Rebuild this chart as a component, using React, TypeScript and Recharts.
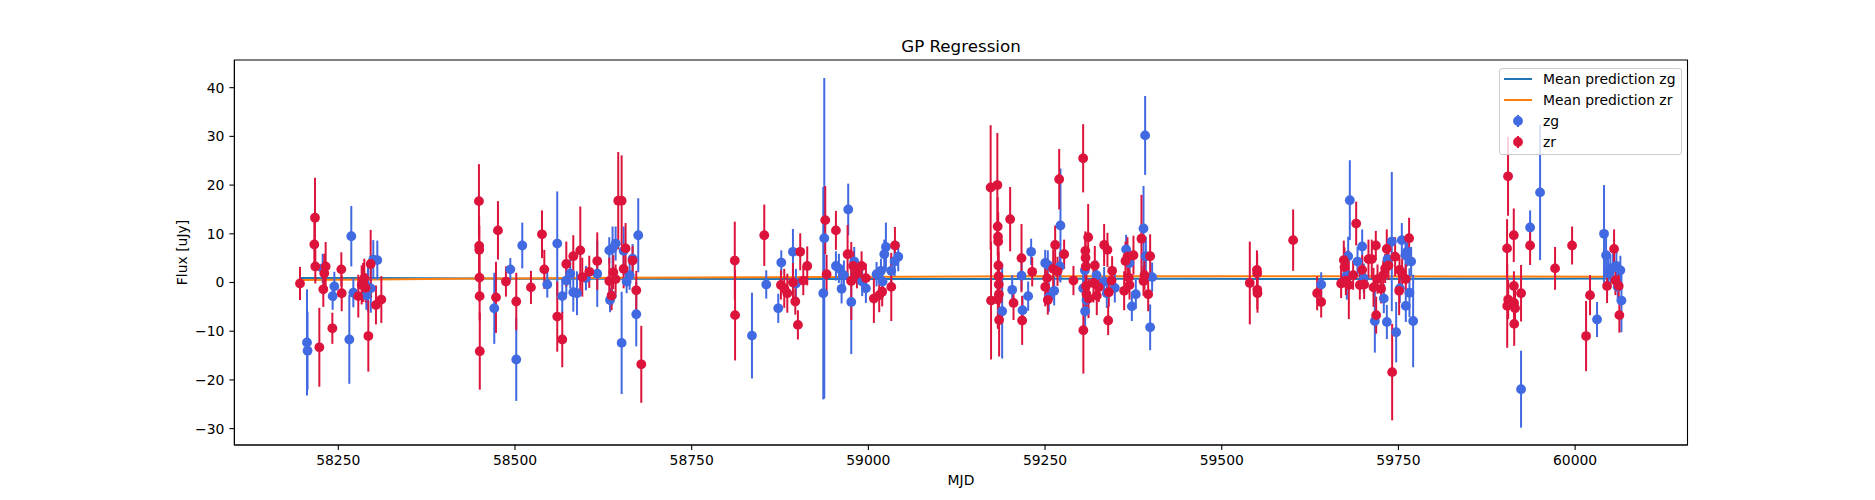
import React from 'react';
import { ComposedChart, Scatter, Line, XAxis, YAxis, ErrorBar, ReferenceArea, Legend } from 'recharts';

// zg band (blue)
const zgMjd = [
  58205.7, 58206.5, 58227.9, 58242.0, 58244.4, 58265.6, 58268.4, 58271.3, 58285.0, 58289.7, 58292.0, 58296.0, 58299.5, 58305.2,
  58470.7, 58493.4, 58501.8, 58510.3, 58545.7, 58559.8, 58566.9, 58572.6, 58578.2, 58582.5, 58587.7, 58600.4, 58616.4,
  58633.4, 58634.5, 58637.0, 58638.1, 58642.4, 58650.9, 58653.7, 58658.0, 58662.2, 58666.4, 58671.6, 58674.4,
  58835.3, 58855.5, 58872.5, 58876.8, 58893.3, 58897.5, 58936.2, 58937.6, 58954.1, 58958.3, 58962.1, 58965.4, 58971.5,
  58975.8, 58980.0, 58991.3, 58996.5, 59011.6, 59017.8, 59020.1, 59022.5, 59024.8, 59032.4, 59037.1, 59042.3,
  59189.3, 59203.5, 59216.7, 59218.1, 59226.1, 59230.3, 59250.2, 59253.9, 59255.3, 59262.9, 59270.9, 59271.8,
  59303.9, 59306.3, 59306.7, 59308.6, 59322.8, 59333.6, 59337.4, 59348.7, 59364.7, 59369.5, 59372.8, 59378.4,
  59389.3, 59391.6, 59392.6, 59398.7, 59401.5,
  59640.7, 59677.0, 59678.9, 59681.2, 59692.1, 59698.7, 59701.0, 59716.6, 59729.3, 59733.6, 59734.5, 59740.6,
  59746.8, 59751.9, 59754.8, 59760.0, 59760.4, 59762.3, 59765.6, 59768.0, 59770.8,
  59923.5, 59936.3, 59950.4, 60031.0, 60040.9, 60043.8, 60046.6, 60049.9, 60053.7, 60058.4, 60060.3, 60064.0, 60065.5,
];
const zgFlux = [
  -12.3, -14.0, 2.9, -2.8, -0.8, -11.7, 9.5, -2.1, -0.2, -2.6, -1.0, -1.2, 4.7, 4.6,
  -5.3, 2.7, -15.8, 7.6, -0.4, 8.0, -2.8, 0.4, 1.8, -2.0, -2.2, 0.9, 1.8,
  6.6, -3.6, -2.7, 7.0, 8.0, -12.4, 6.5, 0.2, 1.5, 4.9, -6.5, 9.7,
  -10.9, -0.4, -5.3, 4.1, 6.3, -0.2, -2.2, 9.1, 3.4, 2.9, -1.3, 1.5, 15.0,
  -4.0, 4.3, 0.2, -1.2, 1.7, 2.4, 0.2, 5.8, 7.3, 2.4, 4.3, 5.3,
  -5.9, -1.5, 1.4, -5.7, -2.8, 6.3, 4.0, 3.6, -3.0, -1.7, 3.3, 11.7,
  -1.2, 2.5, -5.9, -3.6, 1.5, 0.2, -2.2, -1.1, 6.8, 4.0, -4.9, -2.4,
  11.1, 30.2, 5.4, -9.2, 1.1,
  -0.4, 1.5, 5.4, 16.9, 4.3, 7.4, 0.9, -7.9, -3.3, -8.1, 4.8, 8.4,
  -10.2, -1.2, 8.7, 5.6, -4.8, 6.3, -2.1, 4.3, -7.9,
  -21.9, 11.3, 18.5, -7.6, 10.0, 5.6, 1.9, 2.9, 3.0, 3.4, -0.9, 2.5, -3.7,
];
const zgErr = [
  10.9, 8.0, 3.0, 2.8, 3.0, 9.1, 6.2, 3.0, 3.5, 3.0, 5.0, 5.0, 4.0, 4.0,
  7.3, 2.3, 8.5, 4.7, 2.7, 10.7, 3.5, 3.0, 3.0, 4.0, 4.5, 2.5, 6.8,
  2.7, 2.5, 2.0, 4.5, 3.5, 10.5, 5.0, 2.4, 3.0, 3.0, 6.6, 7.6,
  8.8, 2.9, 3.0, 2.5, 4.7, 3.0, 21.8, 32.9, 3.0, 3.0, 3.0, 3.0, 5.3,
  10.7, 3.0, 3.0, 3.0, 2.5, 2.5, 3.0, 3.0, 5.0, 3.0, 3.0, 3.0,
  9.7, 3.0, 3.0, 3.0, 3.0, 2.7, 2.7, 3.0, 3.0, 3.0, 3.0, 11.7,
  3.0, 3.0, 3.0, 3.0, 3.0, 3.0, 3.0, 3.0, 3.0, 3.0, 3.0, 3.0,
  8.7, 8.1, 4.0, 4.7, 3.0,
  2.5, 5.0, 4.0, 8.2, 3.0, 3.5, 3.0, 6.5, 3.0, 3.5, 3.0, 14.3,
  6.2, 3.0, 3.5, 3.0, 3.3, 3.0, 5.0, 3.0, 9.5,
  7.9, 3.5, 13.9, 3.6, 10.0, 4.0, 3.0, 3.0, 3.0, 3.0, 3.0, 3.0, 6.5,
];

// zr band (red)
const zrMjd = [
  58195.8, 58216.1, 58217.0, 58217.5, 58223.2, 58228.8, 58230.2, 58232.1, 58241.6, 58254.3, 58254.8, 58278.3,
  58283.1, 58285.0, 58286.8, 58288.7, 58292.5, 58295.8, 58303.3, 58310.9,
  58449.0, 58449.3, 58449.5, 58449.7, 58450.0, 58450.2, 58475.9, 58473.1, 58487.2, 58501.8, 58522.6, 58538.2,
  58541.5, 58559.8, 58566.9, 58572.6, 58582.5, 58592.4, 58595.2, 58605.1, 58616.4, 58633.4, 58636.7, 58639.1,
  58642.4, 58646.1, 58650.9, 58653.7, 58656.5, 58666.4, 58671.6, 58678.7,
  58811.0, 58811.4, 58852.7, 58876.3, 58881.0, 58885.3, 58893.3, 58896.6, 58900.3, 58903.6, 58907.9, 58913.5,
  58939.0, 58940.9, 58954.1, 58970.6, 58975.8, 58978.6, 58983.8, 58990.4, 58996.5, 59007.8, 59015.4, 59019.6,
  59032.4, 59037.6,
  59173.0, 59173.6, 59182.5, 59183.0, 59183.4, 59183.7, 59184.0, 59184.2, 59184.5, 59184.7, 59183.2, 59185.0,
  59200.6, 59205.4, 59216.7, 59217.6, 59231.8, 59250.2, 59253.0, 59253.9, 59261.5, 59264.3, 59267.6, 59270.0,
  59277.0, 59290.2, 59303.9, 59304.2, 59307.0, 59307.3, 59307.6, 59308.0, 59308.6, 59311.0, 59311.5, 59318.5,
  59320.4, 59323.2, 59326.1, 59333.6, 59338.3, 59339.3, 59340.2, 59344.0, 59344.9, 59361.9, 59363.8, 59366.6,
  59368.5, 59369.5, 59375.1, 59386.4, 59389.3, 59390.7, 59395.9, 59398.7,
  59539.7, 59549.8, 59550.1, 59550.3, 59550.6, 59601.0, 59635.0, 59640.7, 59668.9, 59672.7, 59673.7, 59675.6,
  59679.8, 59685.9, 59690.2, 59695.4, 59698.7, 59701.5, 59707.6, 59712.3, 59714.7, 59718.0, 59718.5, 59720.4,
  59725.5, 59728.4, 59731.2, 59733.5, 59735.9, 59741.1, 59745.3, 59751.0, 59751.5, 59755.2, 59760.4, 59765.1,
  59905.1, 59903.7, 59905.3, 59903.9, 59913.2, 59913.4, 59913.6, 59913.8, 59915.0, 59923.5, 59936.3, 59971.6,
  59995.7, 60015.5, 60021.1, 60045.2, 60055.1, 60057.0, 60061.7, 60062.6,
];
const zrFlux = [
  -0.2, 7.8, 13.3, 3.3, -13.3, -1.4, 1.9, 3.3, -9.4, 2.7, -2.2, -2.8,
  -0.5, 0.0, 0.9, -1.1, -11.0, 3.8, -4.6, -3.5,
  16.7, 7.5, 6.7, 1.0, -2.8, -14.1, 10.7, -3.05, 0.2, -3.9, -1.0, 9.9,
  2.7, -7.0, -11.7, 3.8, 5.4, 6.6, 1.1, 2.2, 4.4, 0.3, -2.7, 2.1,
  0.7, 16.8, 16.8, 2.8, 7.0, 4.5, -1.6, -16.8,
  4.5, -6.7, 9.7, -0.5, -1.2, -2.2, 0.0, -3.9, -8.7, 6.3, 0.4, 3.4,
  12.8, 1.7, 10.7, 5.8, 0.3, 3.4, 1.8, 3.4, 0.9, -3.3, -2.6, -1.9,
  -0.9, 7.6,
  19.5, -3.7, 20.0, 11.5, 9.4, 8.4, 3.5, 1.3, -0.4, -2.4, -3.5, -7.7,
  13.0, -4.2, 5.0, -7.8, 2.2, -0.9, 0.9, -3.6, 2.8, 7.7, 2.3, 21.2,
  5.8, 0.4, 25.5, -9.8, 6.5, 5.1, 3.3, -0.7, -2.4, 9.3, -3.3, -0.1,
  3.5, -2.7, -1.0, 7.7, 6.7, -7.8, -2.0, 0.4, 2.4, -1.7, 4.4, 5.3,
  1.0, -0.5, 5.6, 9.0, 0.3, 1.5, -2.4, 5.4,
  -0.1, 2.6, 1.9, -1.5, -2.2, 8.7, -2.2, -4.0, -0.2, 4.6, 3.2, 0.4,
  -0.5, 1.5, 12.1, -0.5, 2.6, -0.4, 4.8, 4.8, -1.0, 7.6, -6.7, 0.7,
  -1.3, 1.5, 2.9, 6.9, 3.5, -18.4, 5.3, -1.7, 2.6, 1.9, 0.7, 9.1,
  21.8, 7.0, -3.5, -4.8, 9.7, -0.7, -4.2, -8.5, -5.3, -2.2, 7.6, 2.9,
  7.6, -11.0, -2.6, -0.7, 6.9, 0.4, -0.7, -6.7,
];
const zrErr = [
  3.4, 5.0, 8.2, 3.5, 8.1, 3.6, 4.0, 5.0, 3.2, 3.5, 3.7, 4.4,
  4.0, 4.0, 4.0, 3.0, 7.3, 7.0, 4.0, 4.8,
  7.6, 6.0, 5.0, 5.0, 5.0, 7.9, 6.0, 7.3, 3.1, 5.9, 3.4, 4.9,
  4.0, 7.2, 5.7, 4.6, 4.3, 9.0, 4.0, 3.3, 5.9, 4.8, 3.0, 3.5,
  3.0, 10.0, 9.3, 4.0, 5.2, 3.0, 4.0, 7.9,
  8.0, 9.3, 6.3, 3.0, 4.0, 4.0, 4.0, 2.7, 3.0, 3.8, 3.0, 4.0,
  7.0, 4.0, 4.0, 6.0, 8.0, 3.0, 3.0, 3.0, 3.0, 5.0, 3.5, 3.0,
  7.0, 3.8,
  12.8, 12.1, 10.7, 6.0, 5.0, 6.0, 5.0, 5.0, 4.0, 5.0, 6.0, 7.5,
  6.6, 3.5, 7.0, 5.0, 3.0, 4.0, 4.0, 3.0, 4.0, 4.0, 3.0, 6.2,
  3.0, 3.0, 7.0, 8.9, 4.0, 4.0, 4.0, 4.0, 4.0, 6.8, 4.0, 4.0,
  4.0, 4.0, 3.0, 4.3, 3.5, 3.0, 3.0, 3.0, 3.0, 4.0, 4.0, 4.0,
  3.0, 3.0, 4.0, 9.0, 3.0, 3.0, 3.5, 4.5,
  8.5, 4.0, 4.0, 4.0, 4.0, 6.3, 3.5, 3.2, 3.0, 4.0, 4.0, 3.0,
  7.0, 3.0, 4.5, 3.0, 3.0, 3.0, 4.0, 4.0, 4.0, 3.0, 3.8, 3.0,
  3.0, 3.0, 3.0, 4.0, 3.0, 9.9, 4.0, 5.0, 3.0, 3.0, 3.0, 4.2,
  8.1, 6.0, 4.0, 8.6, 5.5, 3.0, 4.0, 4.5, 4.0, 5.8, 4.0, 4.4,
  3.9, 7.2, 4.1, 3.5, 4.0, 3.0, 3.0, 3.6,
];

// GP mean predictions
const predMjd = [58196, 58300, 58450, 58650, 58850, 59050, 59250, 59450, 59650, 59850, 60065];
const predZg = [0.95, 0.9, 0.8, 0.75, 0.7, 0.7, 0.75, 0.75, 0.7, 0.75, 0.8];
const predZr = [0.5, 0.6, 0.8, 1.0, 1.1, 1.2, 1.3, 1.3, 1.3, 1.25, 1.2];

const xTicks = [58250, 58500, 58750, 59000, 59250, 59500, 59750, 60000];
const yTicks = [-30, -20, -10, 0, 10, 20, 30, 40];

const zgData = zgMjd.map((x, i) => ({ x, y: zgFlux[i], e: zgErr[i] }));
const zrData = zrMjd.map((x, i) => ({ x, y: zrFlux[i], e: zrErr[i] }));
const zgLine = predMjd.map((x, i) => ({ x, y: predZg[i] }));
const zrLine = predMjd.map((x, i) => ({ x, y: predZr[i] }));

const X_DOMAIN: [number, number] = [58103, 60159];
const Y_DOMAIN: [number, number] = [-33.36, 45.68];

const BLUE = '#4169e1';
const RED = '#dc143c';
const FONT = 'DejaVu Sans, sans-serif';

const dot = (color: string) => (p: any) => <circle cx={p.cx} cy={p.cy} r={4.9} fill={color} />;

const fmt = (v: number) => String(v).replace('-', '\u2212');

const LegendBox = () => {
  const rows = [
    { label: 'Mean prediction zg', color: '#1f77b4', kind: 'line' },
    { label: 'Mean prediction zr', color: '#ff7f0e', kind: 'line' },
    { label: 'zg', color: BLUE, kind: 'err' },
    { label: 'zr', color: RED, kind: 'err' },
  ];
  return (
    <div
      style={{
        width: 183,
        height: 87,
        boxSizing: 'border-box',
        border: '1px solid #cccccc',
        borderRadius: 3,
        background: 'rgba(255,255,255,0.8)',
        fontFamily: FONT,
        fontSize: 13.9,
        color: '#000',
      }}
    >
      {rows.map((r) => (
        <div key={r.label} style={{ display: 'flex', alignItems: 'center', height: 21.1, paddingLeft: 4.5 }}>
          <svg width={28} height={20} style={{ display: 'block' }}>
            {r.kind === 'line' ? (
              <line x1={0} x2={28} y1={10} y2={10} stroke={r.color} strokeWidth={2} />
            ) : (
              <g>
                <line x1={14} x2={14} y1={4} y2={16} stroke={r.color} strokeWidth={2} />
                <circle cx={14} cy={10} r={4.9} fill={r.color} />
              </g>
            )}
          </svg>
          <span style={{ marginLeft: 11, lineHeight: '16px' }}>{r.label}</span>
        </div>
      ))}
    </div>
  );
};

export default function App() {
  return (
    <div style={{ position: 'absolute', left: 0, top: 0, width: 1875, height: 500, background: '#fff', fontFamily: FONT }}>
      <ComposedChart width={1875} height={500} margin={{ top: 60, right: 187.5, bottom: 25, left: 174.4 }}>
        <XAxis
          type="number"
          dataKey="x"
          domain={X_DOMAIN}
          allowDataOverflow
          ticks={xTicks}
          height={30}
          tickSize={5}
          tickMargin={5}
          stroke="#000"
          strokeWidth={1.1}
          tick={{ fontSize: 13.9, fill: '#000', fontFamily: FONT }}
        />
        <YAxis
          type="number"
          dataKey="y"
          domain={Y_DOMAIN}
          allowDataOverflow
          ticks={yTicks}
          width={60}
          tickSize={5}
          tickMargin={5}
          tickFormatter={fmt}
          stroke="#000"
          strokeWidth={1.1}
          tick={{ fontSize: 13.9, fill: '#000', fontFamily: FONT }}
        />
        <ReferenceArea x1={X_DOMAIN[0]} x2={X_DOMAIN[1]} y1={Y_DOMAIN[0]} y2={Y_DOMAIN[1]} fill="none" stroke="#000" strokeWidth={1.1} />
        <Line data={zgLine} dataKey="y" type="linear" stroke="#1f77b4" strokeWidth={2} dot={false} isAnimationActive={false} />
        <Line data={zrLine} dataKey="y" type="linear" stroke="#ff7f0e" strokeWidth={2} dot={false} isAnimationActive={false} />
        <Scatter data={zgData} dataKey="y" fill={BLUE} shape={dot(BLUE)} isAnimationActive={false}>
          <ErrorBar dataKey="e" direction="y" width={0} stroke={BLUE} strokeWidth={2} isAnimationActive={false} />
        </Scatter>
        <Scatter data={zrData} dataKey="y" fill={RED} shape={dot(RED)} isAnimationActive={false}>
          <ErrorBar dataKey="e" direction="y" width={0} stroke={RED} strokeWidth={2} isAnimationActive={false} />
        </Scatter>
        <Legend
          layout="horizontal"
          verticalAlign="middle"
          align="center"
          content={() => <LegendBox />}
          wrapperStyle={{ left: 1498.5, top: 67.5, width: 183, height: 87 }}
        />
        <text x={961} y={45.5} textAnchor="middle" dominantBaseline="central" fontSize={16.7} fontFamily={FONT} fill="#000">
          GP Regression
        </text>
        <text x={961} y={480} textAnchor="middle" dominantBaseline="central" fontSize={13.9} fontFamily={FONT} fill="#000">
          MJD
        </text>
        <text
          x={181.6}
          y={252.5}
          textAnchor="middle"
          dominantBaseline="central"
          fontSize={13.9}
          fontFamily={FONT}
          fill="#000"
          transform="rotate(-90 181.6 252.5)"
        >
          Flux [uJy]
        </text>
      </ComposedChart>
    </div>
  );
}
